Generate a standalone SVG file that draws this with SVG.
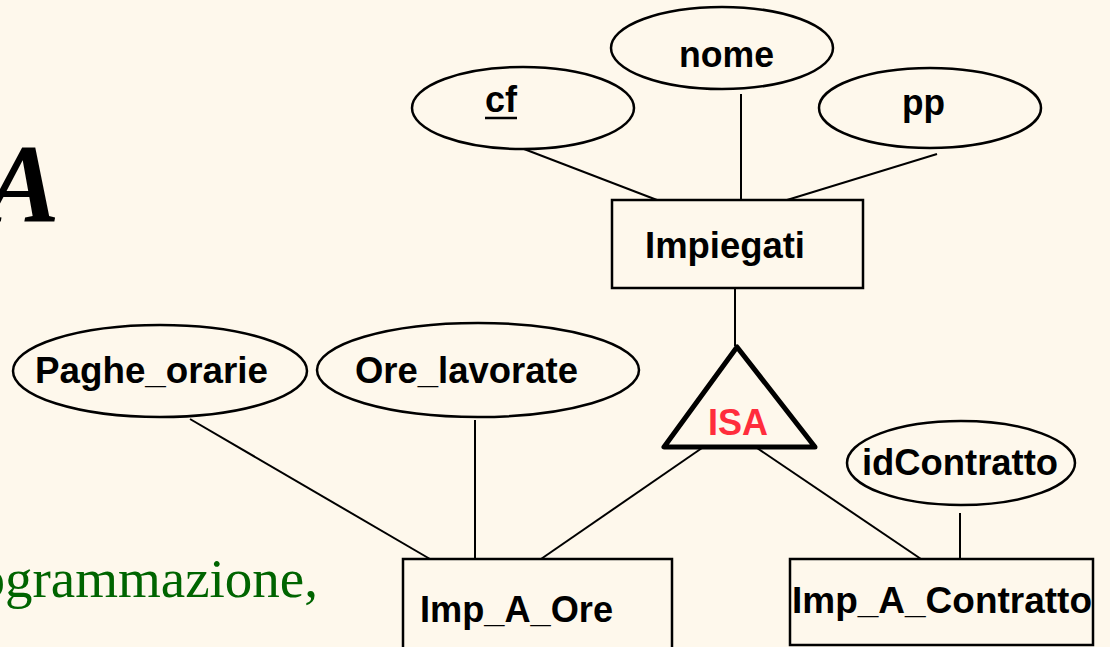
<svg xmlns="http://www.w3.org/2000/svg" width="1110" height="647" viewBox="0 0 1110 647">
  <style>
    .shape { fill: none; stroke: #000; stroke-width: 2.5; }
    .link { stroke: #000; stroke-width: 2; fill: none; }
    .lbl { font-family: "Liberation Sans", Arial, sans-serif; font-weight: bold; font-size: 36px; fill: #000; }
    .isa { font-family: "Liberation Sans", Arial, sans-serif; font-weight: bold; font-size: 36px; fill: #ff2d3c; }
  </style>
  <rect width="1110" height="647" fill="#fef8ec"/>

  <!-- slide title / body fragments -->
  <text x="-15" y="222" font-family="'Liberation Serif', 'Times New Roman', serif" font-weight="bold" font-style="italic" font-size="112" fill="#000">A</text>
  <text x="318" y="597" text-anchor="end" font-family="'Liberation Serif', 'Times New Roman', serif" font-size="55" fill="#006400">ogrammazione,</text>

  <!-- connectors -->
  <g id="connectors">
    <line class="link" x1="524" y1="149" x2="657" y2="200"/>
    <line class="link" x1="741" y1="94" x2="741" y2="200"/>
    <line class="link" x1="937" y1="154" x2="787" y2="200"/>
    <line class="link" x1="735" y1="288" x2="735" y2="346"/>
    <line class="link" x1="702" y1="448" x2="541" y2="559"/>
    <line class="link" x1="757" y1="448" x2="921" y2="559"/>
    <line class="link" x1="190" y1="419" x2="430" y2="559"/>
    <line class="link" x1="475" y1="420" x2="475" y2="559"/>
    <line class="link" x1="960" y1="513" x2="960" y2="559"/>
  </g>

  <!-- attributes of Impiegati -->
  <g id="attr-cf">
    <ellipse class="shape" cx="523" cy="108" rx="111" ry="41"/>
    <text class="lbl" x="485" y="112" textLength="32" lengthAdjust="spacingAndGlyphs">cf</text>
    <line x1="485" y1="118" x2="517" y2="118" stroke="#000" stroke-width="2.5"/>
  </g>
  <g id="attr-nome">
    <ellipse class="shape" cx="722" cy="48" rx="111" ry="41"/>
    <text class="lbl" x="679" y="67" textLength="95" lengthAdjust="spacingAndGlyphs">nome</text>
  </g>
  <g id="attr-pp">
    <ellipse class="shape" cx="930" cy="108" rx="111" ry="40"/>
    <text class="lbl" x="902" y="115" textLength="43" lengthAdjust="spacingAndGlyphs">pp</text>
  </g>

  <!-- entity Impiegati -->
  <g id="ent-impiegati">
    <rect class="shape" x="612" y="200" width="251" height="88"/>
    <text class="lbl" x="645" y="258" textLength="160" lengthAdjust="spacingAndGlyphs">Impiegati</text>
  </g>

  <!-- generalization -->
  <g id="isa">
    <polygon points="737,347 664,447 815,447" fill="none" stroke="#000" stroke-width="5" stroke-linejoin="round"/>
    <text class="isa" x="738" y="435" text-anchor="middle">ISA</text>
  </g>

  <!-- attributes of subclasses -->
  <g id="attr-paghe">
    <ellipse class="shape" cx="160" cy="371" rx="147" ry="46"/>
    <text class="lbl" x="35" y="383" textLength="233" lengthAdjust="spacingAndGlyphs">Paghe_orarie</text>
  </g>
  <g id="attr-ore">
    <ellipse class="shape" cx="478" cy="370" rx="161" ry="47"/>
    <text class="lbl" x="355" y="383" textLength="223" lengthAdjust="spacingAndGlyphs">Ore_lavorate</text>
  </g>
  <g id="attr-idcontratto">
    <ellipse class="shape" cx="961" cy="463" rx="114" ry="42"/>
    <text class="lbl" x="862" y="475" textLength="196" lengthAdjust="spacingAndGlyphs">idContratto</text>
  </g>

  <!-- subclass entities -->
  <g id="ent-imp-a-ore">
    <rect class="shape" x="403" y="559" width="269" height="100"/>
    <text class="lbl" x="420" y="622" textLength="193" lengthAdjust="spacingAndGlyphs">Imp_A_Ore</text>
  </g>
  <g id="ent-imp-a-contratto">
    <rect class="shape" x="790" y="559" width="303" height="86"/>
    <text class="lbl" x="792" y="613" textLength="300" lengthAdjust="spacingAndGlyphs">Imp_A_Contratto</text>
  </g>
</svg>
